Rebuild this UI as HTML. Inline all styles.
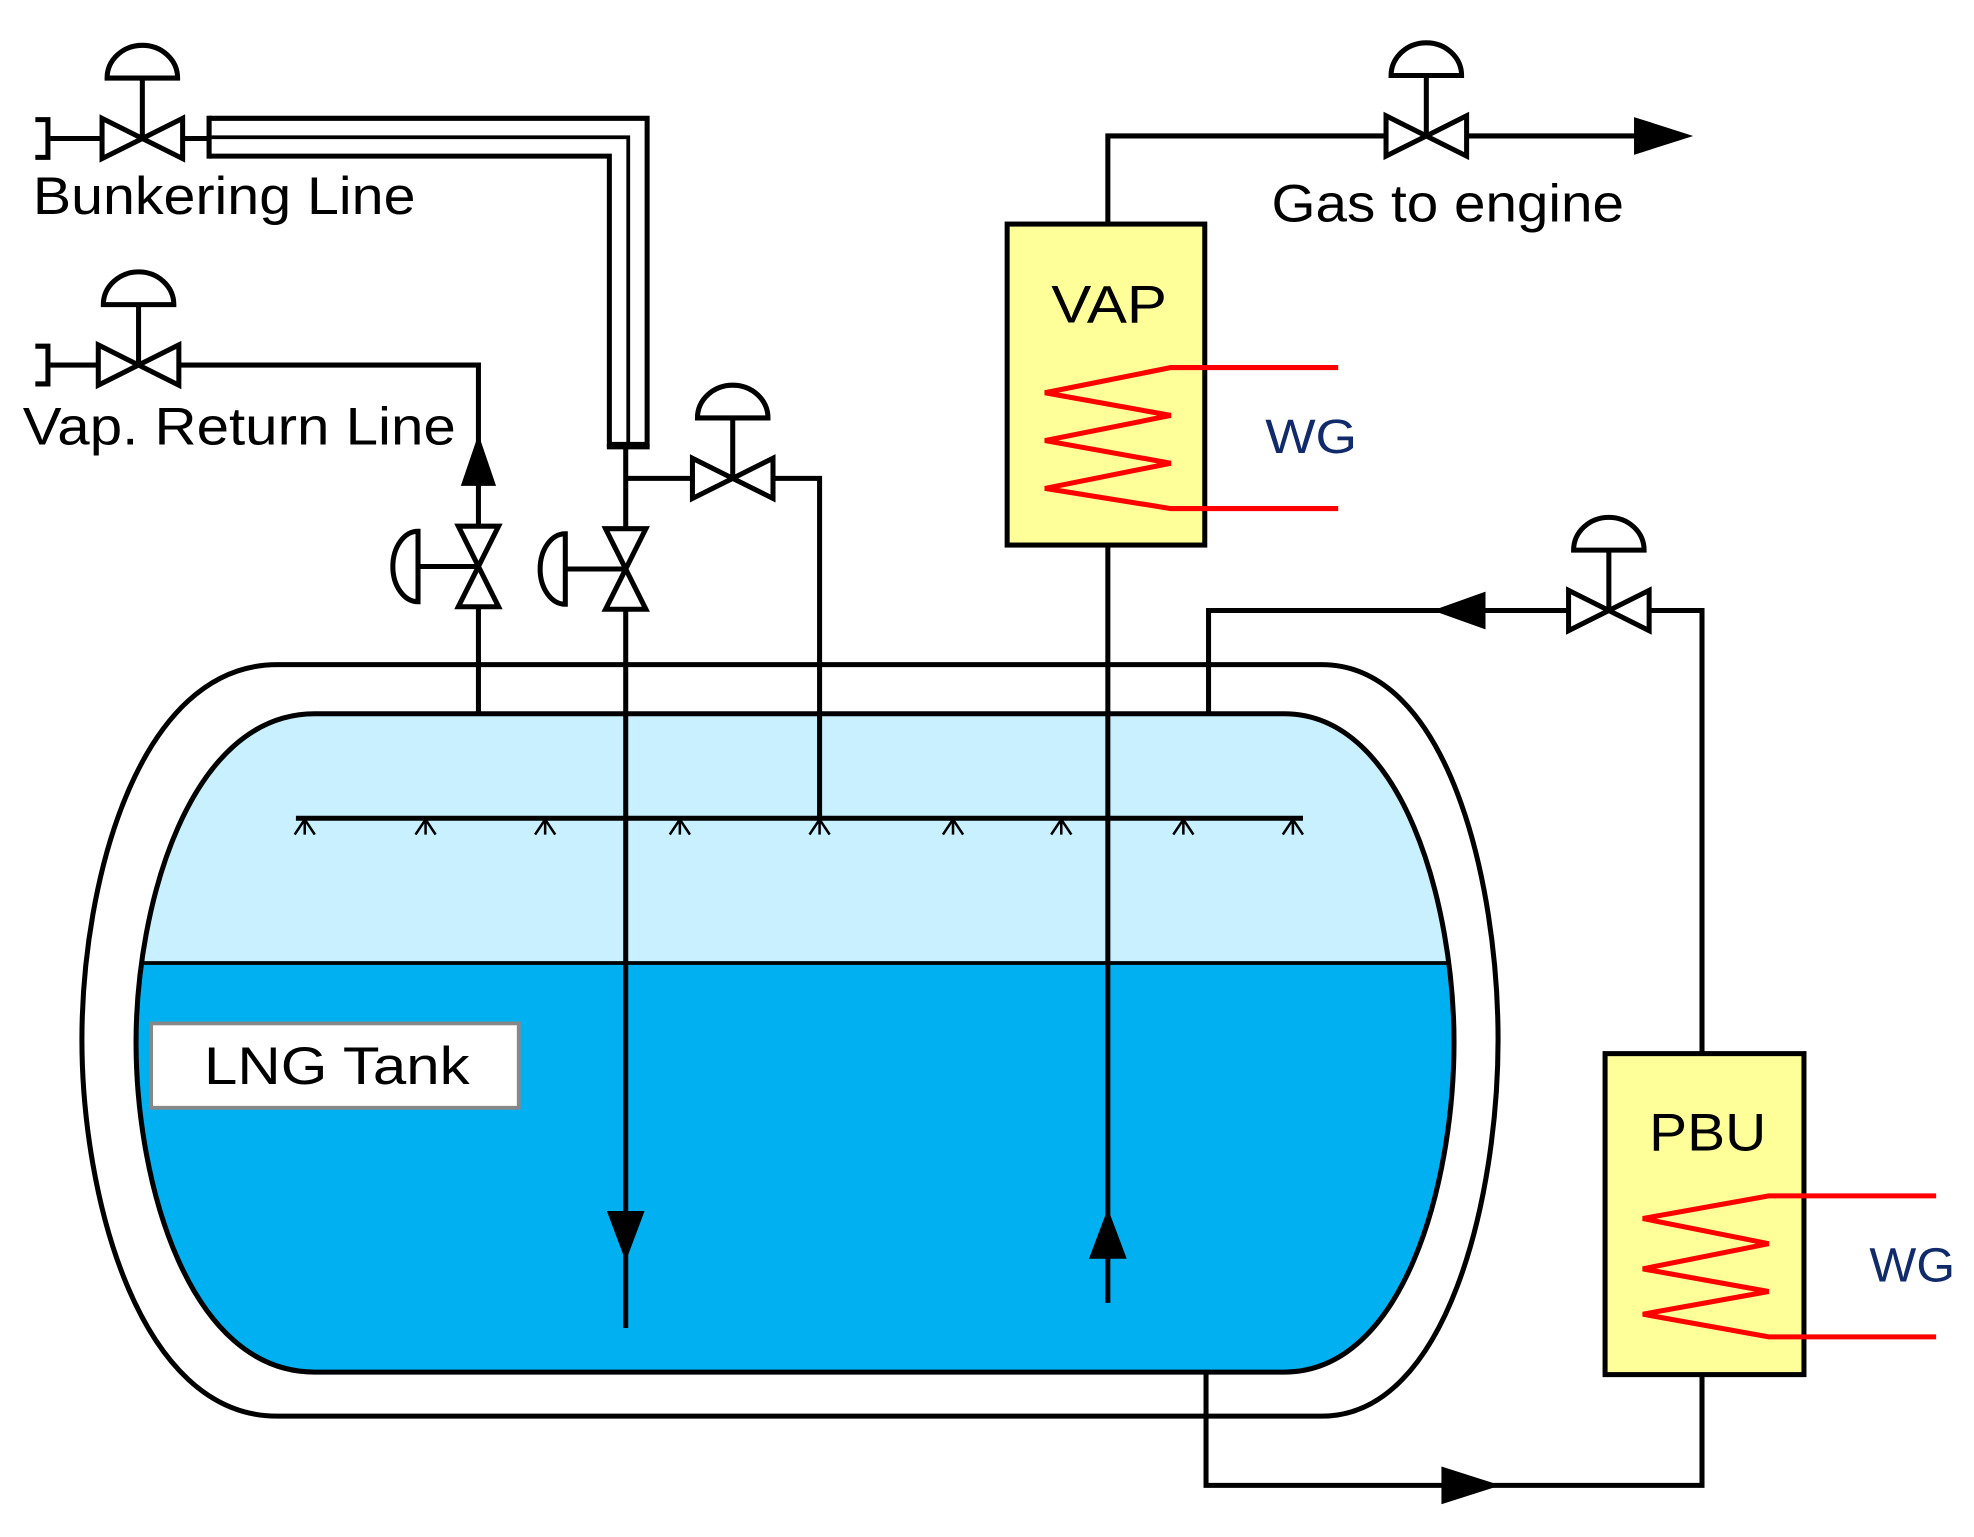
<!DOCTYPE html>
<html><head><meta charset="utf-8"><style>html,body{margin:0;padding:0;background:#fff}svg{display:block}</style></head>
<body>
<svg width="1974" height="1537" viewBox="0 0 1568 1221" xmlns="http://www.w3.org/2000/svg" font-family="Liberation Sans, sans-serif">
<defs>
<clipPath id="inner"><path d="M250,567 H1020 C1115,567 1155,720 1155,828 C1155,940 1115,1090 1020,1090 H250 C150,1090 108,940 108,828 C108,720 150,567 250,567Z"/></clipPath>
<g id="hv" stroke="#000" stroke-width="4" fill="#fff"><path d="M-32,-16 L0,0 L-32,16Z M32,-16 L0,0 L32,16Z"/><line x1="0" y1="0" x2="0" y2="-48"/><path d="M-28,-48 H28 A28,26 0 0 0 -28,-48Z"/></g>
<g id="vv" stroke="#000" stroke-width="4" fill="#fff"><path d="M-16,-32 L0,0 L16,-32Z M-16,32 L0,0 L16,32Z"/><line x1="0" y1="0" x2="-48" y2="0"/><path d="M-48,-28 V28 A20,28 0 0 1 -48,-28Z"/></g>
<g id="spr" stroke="#000" stroke-width="2" fill="none"><path d="M0,0 L-8,12 M0,0 L0,12 M0,0 L8,12"/></g>
</defs>
<rect width="1568" height="1221" fill="#fff"/>
<path d="M220,528 H1050 C1150,528 1190,700 1190,826 C1190,950 1150,1125 1050,1125 H220 C110,1125 65,950 65,826 C65,700 110,528 220,528Z" fill="#fff" stroke="#000" stroke-width="4"/>
<g clip-path="url(#inner)"><rect x="100" y="560" width="1060" height="205" fill="#c8f0ff"/><rect x="100" y="765" width="1060" height="330" fill="#00b0f0"/>
<line x1="100" y1="765" x2="1160" y2="765" stroke="#000" stroke-width="3"/></g>
<path d="M250,567 H1020 C1115,567 1155,720 1155,828 C1155,940 1115,1090 1020,1090 H250 C150,1090 108,940 108,828 C108,720 150,567 250,567Z" fill="none" stroke="#000" stroke-width="4"/>
<line x1="235" y1="650" x2="1035" y2="650" stroke="#000" stroke-width="4"/>
<use href="#spr" x="242" y="651"/><use href="#spr" x="338" y="651"/><use href="#spr" x="433" y="651"/><use href="#spr" x="540" y="651"/><use href="#spr" x="651" y="651"/><use href="#spr" x="757" y="651"/><use href="#spr" x="843" y="651"/><use href="#spr" x="940" y="651"/><use href="#spr" x="1027" y="651"/>
<g stroke="#000" stroke-width="4" fill="none">
<path d="M497,380 H550 M614,380 H651 V650"/>
<path d="M497,355 V1055"/>
<path d="M40,290 H77 M142,290 H380 V567"/>
<path d="M40,110 H80 M145,110 H168"/>
<path d="M880,178 V108 H1300 M880,433 V1035"/>
<path d="M1352,837 V485 H960 V567 M958,1090 V1180 H1352 V1092"/>
</g>
<path d="M28,95 H38 V125 H28 M28,275 H38 V305 H28" stroke="#000" stroke-width="4" fill="none"/>
<path d="M166,109 H499 V355" stroke="#000" stroke-width="34" fill="none" stroke-linejoin="miter"/>
<path d="M168,109 H499 V351" stroke="#fff" stroke-width="26" fill="none" stroke-linejoin="miter"/>
<path d="M168,109 H499 V355" stroke="#000" stroke-width="3" fill="none"/>
<line x1="166" y1="92" x2="166" y2="126" stroke="#000" stroke-width="4"/>
<line x1="482" y1="355" x2="516" y2="355" stroke="#000" stroke-width="4"/>
<use href="#hv" x="113" y="110"/>
<use href="#hv" x="110" y="290"/>
<use href="#hv" x="582" y="380"/>
<use href="#hv" x="1133" y="108"/>
<use href="#hv" x="1278" y="485"/>
<use href="#vv" x="380" y="450"/>
<use href="#vv" x="497" y="452"/>
<g fill="#000">
<path d="M380,345 L366,386 H394Z"/>
<path d="M497,1002 L482,962 H512Z"/>
<path d="M880,960 L865,1000 H895Z"/>
<path d="M1345,108 L1298,93 V123Z"/>
<path d="M1138,485 L1180,470 V500Z"/>
<path d="M1192,1180 L1145,1165 V1195Z"/>
</g>
<rect x="800" y="178" width="157" height="255" fill="#ffff99" stroke="#000" stroke-width="4"/>
<text x="835" y="256" font-size="42" textLength="92" lengthAdjust="spacingAndGlyphs">VAP</text>
<path d="M1063,292 H930 L830,312 L930,330 L830,350 L930,368 L830,388 L930,404 H1063" fill="none" stroke="#ff0000" stroke-width="4"/>
<text x="1005" y="360" font-size="38" fill="#102a6a" textLength="73" lengthAdjust="spacingAndGlyphs">WG</text>
<rect x="1275" y="837" width="158" height="255" fill="#ffff99" stroke="#000" stroke-width="4"/>
<text x="1310" y="914" font-size="42" textLength="93" lengthAdjust="spacingAndGlyphs">PBU</text>
<path d="M1538,950 H1405 L1305,968 L1405,988 L1305,1008 L1405,1026 L1305,1044 L1405,1062 H1538" fill="none" stroke="#ff0000" stroke-width="4"/>
<text x="1485" y="1018" font-size="38" fill="#102a6a" textLength="68" lengthAdjust="spacingAndGlyphs">WG</text>
<text x="26" y="170" font-size="42" textLength="304" lengthAdjust="spacingAndGlyphs">Bunkering Line</text>
<text x="18" y="353" font-size="42" textLength="344" lengthAdjust="spacingAndGlyphs">Vap. Return Line</text>
<text x="1010" y="176" font-size="42" textLength="280" lengthAdjust="spacingAndGlyphs">Gas to engine</text>
<rect x="120" y="813" width="292" height="67" fill="#fff" stroke="#888" stroke-width="3"/>
<text x="162" y="861" font-size="42" textLength="211" lengthAdjust="spacingAndGlyphs">LNG Tank</text>
</svg>
</body></html>
